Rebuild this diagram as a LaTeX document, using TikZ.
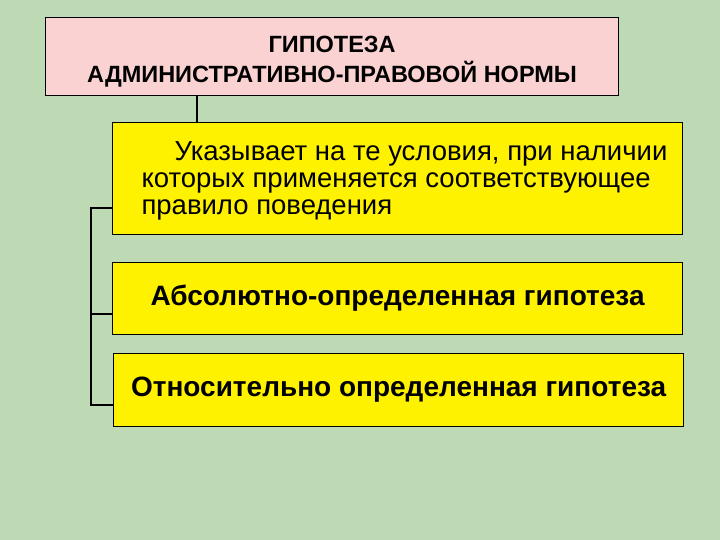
\documentclass[tikz,border=0pt]{standalone}
\usepackage{fontspec}
\setmainfont{Liberation Sans}
\begin{document}
\begin{tikzpicture}[x=1pt,y=-1pt,
 bx/.style={draw=black,line width=1.2pt,fill=yellow,inner sep=0pt,anchor=north west},
 ln/.style={draw=black,line width=1.2pt}]
\fill[fill={rgb,255:red,190;green,218;blue,180}] (0,0) rectangle (720,540);
\useasboundingbox (0,0) rectangle (720,540);
\node[bx,fill={rgb,255:red,250;green,210;blue,210},minimum width=573pt,minimum height=78pt] (top) at (45,17) {};
\node[font=\bfseries\fontsize{23.5}{30}\selectfont,align=center] (tt) at ([yshift=-5pt]top.center) {ГИПОТЕЗА\\АДМИНИСТРАТИВНО-ПРАВОВОЙ НОРМЫ};
\node[bx,minimum width=570pt,minimum height=112pt] (b1) at (112,122) {};
\node[font=\fontsize{27.5}{27}\selectfont,align=left,anchor=north west] (t1) at (138,138) {\hspace*{1.2em}Указывает на те условия, при наличии\\которых применяется соответствующее\\правило поведения};
\node[bx,minimum width=570pt,minimum height=72pt,font=\bfseries\fontsize{28}{30}\selectfont] (b2) at (112,262) {Абсолютно-определенная гипотеза};
\node[bx,minimum width=570pt,minimum height=73pt,font=\bfseries\fontsize{28}{30}\selectfont] (b3) at (113,353) {Относительно определенная гипотеза};
\coordinate (c1) at (91,208);
\coordinate (c3) at (91,405);
\draw[ln] (top.south -| 197,0) -- (b1.north -| 197,0);
\draw[ln] (b1.west |- c1) -- (c1) -- (c3) -- (b3.west |- c3);
\draw[ln] (91,314) -- (b2.west |- 0,314);
\end{tikzpicture}
\end{document}
